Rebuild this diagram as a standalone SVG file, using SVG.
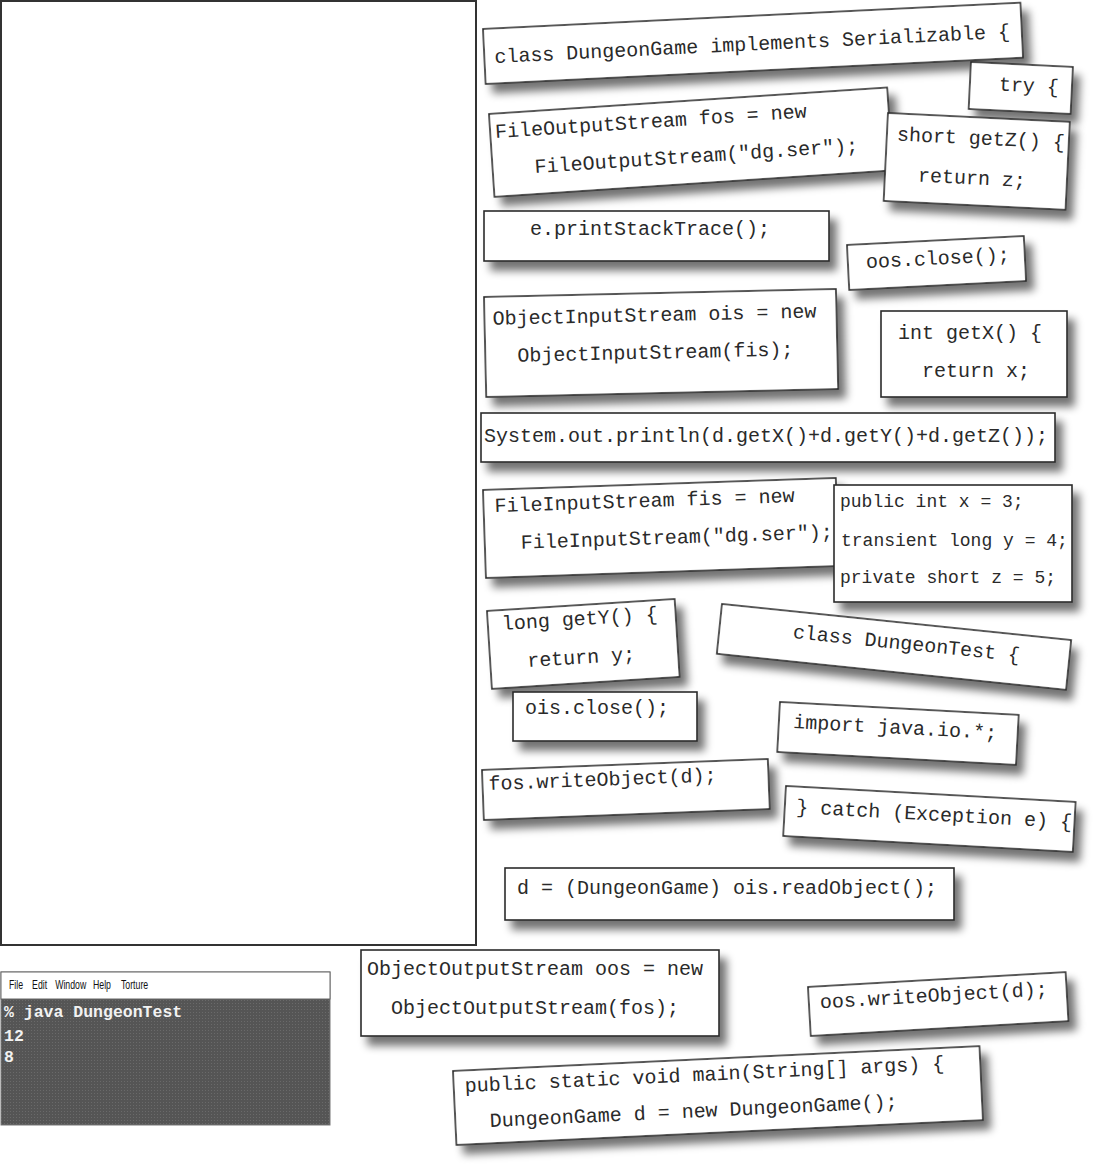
<svg xmlns="http://www.w3.org/2000/svg" width="1100" height="1168" viewBox="0 0 1100 1168">
<defs>
<filter id="sh" x="-10%" y="-20%" width="130%" height="170%">
<feGaussianBlur in="SourceAlpha" stdDeviation="4"/>
<feOffset dx="7" dy="9" result="b"/>
<feComponentTransfer><feFuncA type="linear" slope="0.55"/></feComponentTransfer>
<feMerge><feMergeNode/><feMergeNode in="SourceGraphic"/></feMerge>
</filter>
<pattern id="stip" width="3" height="3" patternUnits="userSpaceOnUse">
<rect width="3" height="3" fill="#555"/>
<rect x="1" y="1" width="1" height="1" fill="#6a6a6a"/>
</pattern>
</defs>
<style>
.m{fill:#fff;stroke:#2a2a2a;stroke-width:1.6}
.c{font-family:"Liberation Mono","DejaVu Sans Mono",monospace;font-size:20px;fill:#2a2a2a}
.s{font-size:18px}
.t{font-family:"Liberation Mono","DejaVu Sans Mono",monospace;font-size:16.5px;font-weight:bold;fill:#f2f2f2}
.menu{font-family:"Liberation Sans",Arial,sans-serif;font-size:12.5px;fill:#111}
</style>
<rect width="1100" height="1168" fill="#fff"/>

<g id="panel"><rect x="1" y="1" width="475" height="944" fill="#fff" stroke="#333" stroke-width="2"/></g>

<g id="terminal">
<rect x="1" y="972" width="329" height="153" fill="url(#stip)" stroke="#777" stroke-width="1"/>
<rect x="1" y="972" width="329" height="27" fill="#fff" stroke="#666" stroke-width="1"/>
<g transform="translate(9,989) scale(0.7,1)">
<text class="menu" x="0" y="0">File</text>
<text class="menu" x="33" y="0">Edit</text>
<text class="menu" x="66" y="0">Window</text>
<text class="menu" x="120" y="0">Help</text>
<text class="menu" x="160" y="0">Torture</text>
</g>
<text class="t" x="4" y="1017">% java DungeonTest</text>
<text class="t" x="4" y="1041">12</text>
<text class="t" x="4" y="1062">8</text>
</g>

<g id="m-class-dungeongame" transform="translate(483,29) rotate(-2.8)"><rect class="m" width="538" height="55" filter="url(#sh)"/><text class="c" x="10" y="34.5">class DungeonGame implements Serializable {</text></g>
<g id="m-try" transform="translate(971,62) rotate(2.8)"><rect class="m" width="102" height="47" filter="url(#sh)"/><text class="c" x="29" y="27">try {</text></g>
<g id="m-fos" transform="translate(489,114) rotate(-3.8)"><rect class="m" width="399" height="83" filter="url(#sh)"/><text class="c" x="5" y="24.5">FileOutputStream fos = new</text><text class="c" x="42" y="62">FileOutputStream("dg.ser");</text></g>
<g id="m-getz" transform="translate(888,113) rotate(2.8)"><rect class="m" width="182" height="88" filter="url(#sh)"/><text class="c" x="10" y="27">short getZ() {</text><text class="c" x="33" y="67">return z;</text></g>
<g id="m-printstacktrace" transform="translate(484,211)"><rect class="m" width="345" height="50" filter="url(#sh)"/><text class="c" x="46" y="24">e.printStackTrace();</text></g>
<g id="m-oos-close" transform="translate(847,245) rotate(-2.9)"><rect class="m" width="177" height="45" filter="url(#sh)"/><text class="c" x="18" y="24">oos.close();</text></g>
<g id="m-ois" transform="translate(484,297) rotate(-1.3)"><rect class="m" width="352" height="100" filter="url(#sh)"/><text class="c" x="8" y="28">ObjectInputStream ois = new</text><text class="c" x="32" y="65.5">ObjectInputStream(fis);</text></g>
<g id="m-getx" transform="translate(881,311)"><rect class="m" width="186" height="86" filter="url(#sh)"/><text class="c" x="17" y="28">int getX() {</text><text class="c" x="41" y="66">return x;</text></g>
<g id="m-println" transform="translate(481,413)"><rect class="m" width="574" height="49" filter="url(#sh)"/><text class="c" x="3" y="29">System.out.println(d.getX()+d.getY()+d.getZ());</text></g>
<g id="m-fis" transform="translate(483,490) rotate(-1.95)"><rect class="m" width="353" height="88" filter="url(#sh)"/><text class="c" x="11" y="22.5">FileInputStream fis = new</text><text class="c" x="36" y="60">FileInputStream("dg.ser");</text></g>
<g id="m-fields" transform="translate(834,485)"><rect class="m" width="238" height="117" filter="url(#sh)"/><text class="c s" x="6" y="22">public int x = 3;</text><text class="c s" x="7" y="61">transient long y = 4;</text><text class="c s" x="6" y="98">private short z = 5;</text></g>
<g id="m-gety" transform="translate(487,611) rotate(-3.65)"><rect class="m" width="188" height="78" filter="url(#sh)"/><text class="c" x="14" y="20">long getY() {</text><text class="c" x="37" y="58.5">return y;</text></g>
<g id="m-class-dungeontest" transform="translate(722,604) rotate(5.9)"><rect class="m" width="351" height="50" filter="url(#sh)"/><text class="c" x="73.5" y="26.6">class DungeonTest {</text></g>
<g id="m-ois-close" transform="translate(513,692)"><rect class="m" width="184" height="49" filter="url(#sh)"/><text class="c" x="12" y="22">ois.close();</text></g>
<g id="m-import" transform="translate(780,702) rotate(3.1)"><rect class="m" width="239" height="50" filter="url(#sh)"/><text class="c" x="14.4" y="25.3">import java.io.*;</text></g>
<g id="m-fos-write" transform="translate(482,770) rotate(-2.2)"><rect class="m" width="286" height="50" filter="url(#sh)"/><text class="c" x="6" y="20.3">fos.writeObject(d);</text></g>
<g id="m-catch" transform="translate(786,786) rotate(3.16)"><rect class="m" width="290" height="50" filter="url(#sh)"/><text class="c" x="11.5" y="26.4">} catch (Exception e) {</text></g>
<g id="m-readobject" transform="translate(505,868)"><rect class="m" width="449" height="52" filter="url(#sh)"/><text class="c" x="12" y="26">d = (DungeonGame) ois.readObject();</text></g>
<g id="m-oos" transform="translate(361,950)"><rect class="m" width="358" height="86" filter="url(#sh)"/><text class="c" x="6" y="25">ObjectOutputStream oos = new</text><text class="c" x="30" y="64">ObjectOutputStream(fos);</text></g>
<g id="m-oos-write" transform="translate(808,987) rotate(-3.3)"><rect class="m" width="258" height="49" filter="url(#sh)"/><text class="c" x="11" y="22">oos.writeObject(d);</text></g>
<g id="m-main" transform="translate(453,1071) rotate(-2.7)"><rect class="m" width="527" height="74" filter="url(#sh)"/><text class="c" x="11" y="21.6">public static void main(String[] args) {</text><text class="c" x="34.4" y="57.7">DungeonGame d = new DungeonGame();</text></g>
</svg>
